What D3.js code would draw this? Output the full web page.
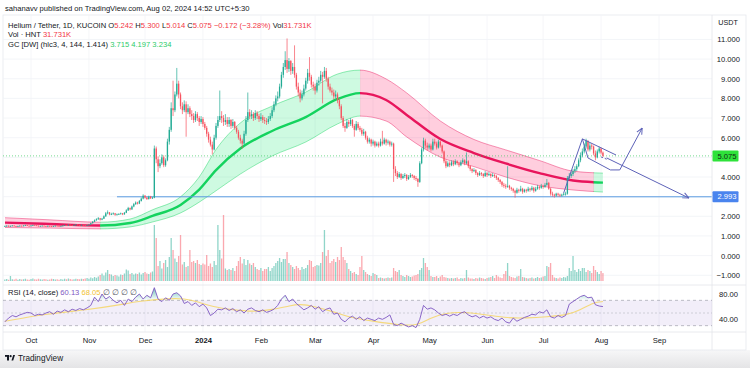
<!DOCTYPE html>
<html><head><meta charset="utf-8">
<script src="https://cdn.jsdelivr.net/npm/d3@7"></script>
<style>
html,body{margin:0;padding:0;background:#fff;}
svg{display:block;font-family:"Liberation Sans",Arial,"Noto Sans",sans-serif;}
</style></head><body>
<svg id="chart" width="750" height="368"></svg>
<script>
// ---------------- DATA ----------------
const startDay = [2023, 8, 17];           // first candle: 2023-09-17 (UTC), daily candles
const firstOpen = 1.49;
const closes = [
1.50,1.52,1.49,1.51,1.53,1.50,1.48,1.50,1.52,1.51,
1.53,1.55,1.52,1.50,1.53,1.55,1.54,1.52,1.50,1.51,
1.52,1.50,1.49,1.51,1.50,1.48,1.50,1.52,1.51,1.49,
1.50,1.53,1.55,1.54,1.57,1.55,1.53,1.56,1.58,1.55,
1.54,1.56,1.55,1.53,1.55,1.58,1.65,1.72,1.80,1.85,
1.90,1.83,1.88,2.00,2.15,2.20,2.10,2.12,2.15,2.08,
2.10,2.12,2.15,2.10,2.18,2.30,2.42,2.35,2.50,2.62,
2.70,2.65,2.78,2.90,3.05,2.95,2.88,3.00,2.92,2.95,
5.45,4.90,4.55,4.70,5.00,4.60,4.85,5.80,6.40,7.50,
7.40,8.20,8.75,8.20,7.60,7.40,7.70,7.30,7.50,7.20,
7.10,6.90,7.20,7.00,6.80,6.95,6.70,6.50,6.20,5.90,
5.65,5.40,6.00,6.60,6.90,7.10,7.00,6.80,6.90,6.70,
6.90,6.60,6.80,6.50,6.30,6.00,5.85,5.70,6.20,6.90,
7.30,7.10,7.20,7.00,7.25,7.10,6.95,7.05,6.90,6.85,
6.80,6.95,7.10,7.40,7.70,8.00,8.10,8.60,9.20,9.60,
9.95,9.50,9.90,9.40,9.60,9.20,8.60,8.30,8.00,8.20,
8.50,8.90,9.30,9.10,8.70,8.60,8.40,8.80,8.90,9.20,
9.10,9.40,9.00,8.60,8.40,8.30,8.10,8.20,7.90,7.60,
7.00,6.60,6.50,6.80,6.70,6.90,6.60,6.40,6.70,6.50,
6.40,6.20,6.30,6.00,5.80,5.90,5.70,5.80,5.60,5.70,
5.60,5.80,5.70,5.90,5.75,5.80,5.65,5.70,4.40,4.20,
4.00,4.15,3.95,4.05,4.10,3.90,4.00,4.10,4.05,3.95,
3.90,3.75,4.70,5.40,5.85,5.60,5.50,5.60,5.40,5.80,
5.70,5.50,5.80,5.60,5.30,4.80,4.55,4.70,4.60,4.75,
4.65,4.80,4.70,4.60,4.75,4.85,4.70,4.80,4.55,4.40,
4.30,4.35,4.20,4.10,4.20,4.15,4.05,4.20,4.10,4.15,
4.05,4.10,4.05,3.95,3.85,3.75,3.60,3.55,3.50,3.55,
3.45,3.40,3.30,3.20,3.35,3.30,3.40,3.25,3.35,3.30,
3.40,3.35,3.45,3.30,3.40,3.50,3.45,3.55,3.50,3.60,
3.70,3.40,3.15,3.10,3.05,3.15,3.10,3.05,3.10,3.15,
3.15,3.95,4.05,4.15,4.30,4.40,4.55,4.85,5.10,5.30,
5.55,5.85,5.40,5.60,5.55,5.20,5.00,5.30,5.45,5.242,5.075];
const highs = [
1.53,1.54,1.53,1.53,1.55,1.54,1.51,1.52,1.54,1.53,
1.55,1.57,1.56,1.53,1.55,1.57,1.56,1.55,1.53,1.53,
1.54,1.53,1.51,1.53,1.52,1.51,1.52,1.54,1.53,1.52,
1.52,1.55,1.57,1.56,1.59,1.58,1.56,1.58,1.61,1.59,
1.57,1.58,1.57,1.56,1.57,1.60,1.68,1.76,1.84,1.90,
1.96,1.92,1.92,2.05,2.22,2.30,2.22,2.18,2.20,2.17,
2.14,2.16,2.19,2.17,2.22,2.36,2.48,2.45,2.55,2.68,
2.76,2.74,2.83,2.96,3.12,3.08,2.98,3.05,3.04,2.99,
5.60,5.55,5.05,4.90,5.15,5.10,4.95,5.95,6.55,7.80,
8.90,8.35,9.55,8.90,8.30,7.80,7.90,7.85,7.70,7.60,
7.40,7.25,7.35,7.30,7.10,7.10,7.05,6.80,6.60,6.30,
6.05,5.80,6.15,6.75,7.10,8.40,7.35,7.15,7.20,7.05,
7.05,6.95,6.95,6.85,6.60,6.40,6.15,5.95,6.35,7.10,
8.30,7.45,7.40,7.30,7.40,7.35,7.20,7.25,7.15,7.05,
7.00,7.10,7.25,7.55,7.85,8.15,8.35,8.75,9.35,9.80,
10.40,11.05,10.05,9.95,9.80,10.70,9.30,8.80,8.45,8.40,
8.70,9.05,9.50,10.10,9.20,8.85,8.75,8.95,9.10,9.40,
9.35,9.60,9.55,9.10,8.75,8.55,8.45,8.40,8.30,8.00,
7.70,7.10,6.75,6.95,6.90,7.00,6.95,6.70,6.85,6.80,
6.60,6.50,6.45,6.35,6.10,6.00,5.95,5.90,5.85,5.80,
5.80,5.95,6.35,6.00,5.95,5.90,5.85,5.80,5.75,4.55,
4.30,4.25,4.20,4.15,4.20,4.15,4.10,4.20,4.15,4.10,
4.05,3.95,4.80,5.50,6.00,5.95,5.75,5.70,5.70,5.95,
5.95,5.80,5.90,5.85,5.65,5.35,4.90,4.80,4.80,4.85,
4.85,4.90,4.85,4.75,4.85,4.95,4.90,5.25,4.85,4.60,
4.45,4.45,4.40,4.25,4.30,4.25,4.20,4.30,4.25,4.25,
4.20,4.20,4.15,4.10,4.00,3.90,3.80,3.70,3.65,4.55,
3.60,3.50,3.45,3.35,3.45,3.40,3.55,3.45,3.40,3.40,
3.50,3.45,3.55,3.50,3.50,3.60,3.55,3.65,3.60,3.70,
3.90,3.75,3.45,3.25,3.15,3.20,3.20,3.15,3.15,3.20,
3.25,4.05,4.20,4.25,4.40,4.55,4.65,4.95,5.25,5.45,
5.70,5.95,5.85,5.75,5.70,5.60,5.35,5.40,5.55,5.50,5.300];
const lows = [
1.47,1.48,1.47,1.48,1.50,1.49,1.46,1.47,1.49,1.49,
1.50,1.52,1.51,1.49,1.49,1.52,1.53,1.51,1.49,1.49,
1.50,1.49,1.47,1.48,1.49,1.46,1.47,1.49,1.50,1.47,
1.48,1.49,1.52,1.52,1.53,1.54,1.51,1.52,1.55,1.54,
1.52,1.53,1.53,1.51,1.52,1.54,1.57,1.63,1.70,1.77,
1.82,1.78,1.80,1.86,1.97,2.10,2.05,2.06,2.08,2.02,
2.04,2.07,2.09,2.06,2.08,2.16,2.27,2.30,2.33,2.46,
2.58,2.60,2.62,2.75,2.86,2.90,2.83,2.85,2.88,2.88,
2.92,4.70,4.25,4.45,4.62,4.50,4.52,4.80,5.65,6.30,
7.10,7.30,8.10,8.00,7.45,7.20,7.30,6.05,7.20,7.05,
6.90,6.75,6.80,6.85,6.60,6.70,6.55,6.40,6.05,5.75,
5.55,5.15,5.35,5.90,6.50,6.80,6.75,6.60,6.65,6.55,
6.55,6.45,6.50,6.40,6.20,5.90,5.70,5.45,5.65,6.10,
6.80,6.95,6.95,6.85,6.90,6.95,6.80,6.85,6.75,6.70,
6.65,6.70,6.85,7.00,7.30,7.60,7.85,8.00,8.50,9.05,
9.45,9.30,9.35,9.20,9.25,9.05,8.45,8.10,7.80,7.90,
8.10,8.40,8.75,8.90,8.55,8.40,8.20,8.30,8.65,8.80,
7.75,9.00,8.85,8.45,8.30,8.15,7.95,8.00,7.75,7.45,
6.90,6.50,6.30,6.45,6.55,6.60,6.50,6.05,6.35,6.40,
6.30,6.10,6.10,5.90,5.70,5.70,5.55,5.60,5.50,5.55,
5.50,5.55,5.60,5.65,5.60,5.65,5.55,5.55,3.75,4.05,
3.90,3.95,3.85,3.90,3.95,3.80,3.85,3.95,3.95,3.85,
3.80,3.50,3.70,4.65,5.30,5.45,5.35,5.40,5.30,5.35,
5.60,5.40,5.45,5.50,5.20,4.70,4.45,4.50,4.50,4.55,
4.55,4.60,4.60,4.50,4.55,4.70,4.60,4.65,4.45,4.30,
4.20,4.25,4.10,4.00,4.05,4.05,3.95,4.00,4.00,4.05,
3.95,4.00,3.95,3.85,3.75,3.65,3.50,3.45,3.40,3.45,
3.35,3.30,3.20,2.95,3.15,3.20,3.25,3.15,3.20,3.20,
3.25,3.25,3.30,3.20,3.25,3.35,3.35,3.40,3.40,3.45,
3.55,3.35,3.05,3.00,2.95,3.00,3.00,2.98,3.00,3.05,
3.05,3.10,3.85,3.95,4.05,4.20,4.30,4.50,4.75,5.00,
5.20,5.45,5.30,5.30,5.40,5.10,4.85,4.95,5.20,5.15,5.014];
const volumesK = [
6,8,5,20,7,6,9,5,8,6,
7,9,6,5,8,10,7,6,9,7,
6,8,7,5,6,9,8,6,7,5,
8,6,9,7,10,8,6,7,9,8,
7,9,8,10,12,9,14,11,16,13,
18,24,30,22,34,44,28,26,20,24,
22,18,26,24,30,46,42,28,32,26,
30,28,34,26,32,36,30,28,34,38,
224,172,60,80,50,72,84,56,96,172,
124,90,76,100,184,66,76,56,60,124,
76,80,72,84,68,64,70,66,104,60,
70,56,80,64,224,124,90,264,50,44,
48,44,52,40,60,80,96,70,88,64,
84,70,64,72,56,48,44,52,40,48,
48,56,40,52,60,72,80,92,76,88,
88,116,72,64,56,48,60,52,44,56,
48,52,64,84,80,56,60,64,62,72,
116,204,100,124,72,80,88,76,96,84,
136,96,84,72,48,40,32,36,28,24,
56,100,44,36,28,24,20,32,28,24,
12,14,12,10,12,14,12,14,52,40,
36,44,24,20,16,24,20,16,18,22,
24,28,44,52,92,72,56,44,20,16,
16,20,12,18,24,16,14,12,10,12,
10,12,14,8,12,10,12,44,14,10,
10,8,12,10,14,12,10,8,12,14,
16,20,12,24,18,14,12,28,40,72,
20,16,14,12,18,20,48,16,14,12,
10,12,14,10,12,16,12,14,18,20,
60,56,72,24,14,12,10,14,12,16,
14,20,52,40,100,44,36,48,40,52,
52,36,44,40,32,60,44,36,28,40,31.731];

// RSI(14) sampled every 2 days from the first candle
const rsiStepDays = 2;
const rsiValues = [
36,42,46,44,47, 49,51,50,46,48, 47,50,52,48,53, 51,55,52,56,54,
57,55,58,62,75, 68,80,72,76,70, 66,70,62,72,68, 75,80,72,78,74,
90,72,68,74,70, 80,82,77,65,68, 62,66,60,64,58, 46,50,56,55,58,
54,57,52,55,50, 56,58,54,52,55, 51,53,56,62,72, 78,68,72,65,60,
55,58,62,56,60, 52,56,58,48,50, 40,36,42,45,40, 44,38,42,40,38,
42,40,43,47,32, 30,34,31,28,30, 27,40,62,56,58, 55,50,46,48,45,
48,46,50,52,47, 44,46,42,45,42, 44,40,38,42,36, 34,42,37,40,43,
45,48,47,52,50, 55,44,42,46,43, 46,64,68,72,76, 78,74,75,63,61,
60.13];
const rsiMaDays   = [0,23,44,60,72,88,96,104,111,122,133,143,153,158,165,176,183,197,211,221,228,237,247,258,269,279,290,301,308,315,320];
const rsiMaValues = [37,49,55,62,69,73,73,67,60,55,52,55,62,64,61,52,44,37,31,30,43,51,51,47,42,42,44,47,55,67,68.05];

// Gaussian Channel (hlc3, 4, 144, 1.414) key points
const gcDays  = [0,24,51,67,79,94,104,113,126,143,161,178,190,204,215,233,251,268,286,304,320];
const gcUpper = [1.93,1.82,1.70,1.86,2.33,2.99,4.00,5.40,6.75,7.61,8.32,9.24,9.44,8.99,8.28,6.85,5.91,5.38,4.84,4.30,4.197];
const gcMid   = [1.68,1.61,1.53,1.66,2.02,2.58,3.36,4.35,5.45,6.34,7.05,7.97,8.27,7.92,7.16,5.93,5.22,4.69,4.20,3.82,3.715];
const gcLower = [1.43,1.40,1.36,1.46,1.71,2.17,2.72,3.30,4.15,5.07,5.78,6.70,7.10,6.85,6.04,5.01,4.53,4.00,3.56,3.34,3.234];
const gcTrendFrom = [0,51,190,315];
const gcTrendTo   = [51,190,315,320];
const gcTrend     = ["down","up","down","up"];

const monthTicks  = ["2023-10-01","2023-11-01","2023-12-01","2024-01-01","2024-02-01","2024-03-01","2024-04-01","2024-05-01","2024-06-01","2024-07-01","2024-08-01","2024-09-01"];
const monthLabels = ["Oct","Nov","Dec","2024","Feb","Mar","Apr","May","Jun","Jul","Aug","Sep"];
const priceTicks  = [-1,0,1,2,3,4,5,6,7,8,9,10,11];
const rsiTicks    = [80,40];
const rsiLevels   = [70,50,30];
const lastPrice   = 5.075;
const supportPrice = 2.993;
const supportFromDay = 60;

// user drawings: [dayIndex, price]
const drawPole      = [[299.7,3.19],[309.9,5.94]];
const drawFlagTop   = [[309.9,5.94],[327.0,5.12]];
const drawFlagLeft  = [[309.9,5.94],[312.0,4.97]];
const drawFlagBot   = [[312.0,4.97],[324.9,4.36]];
const drawBreakout  = [[324.9,4.36],[329.1,4.36],[341.5,6.49]];
const drawTrend     = [[322.7,4.97],[366.6,2.93]];
const drawDashed    = [[319.5,5.02],[323.8,4.87]];

// ---------------- CHART ----------------
const svg = d3.select("#chart");
const paneL = 3, paneR = 712, mainTop = 15, mainBot = 285, rsiTop = 285, rsiBot = 332, timeBot = 350;
const FS = 7.6, TXT = "#131722";
const upC = "#22ab94", dnC = "#f7525f";

const dayDate = i => new Date(Date.UTC(startDay[0], startDay[1], startDay[2] + i));
const x = d3.scaleUtc().domain([new Date(Date.UTC(2023,9,1)), new Date(Date.UTC(2024,8,1))]).range([31,659]);
const xi = i => x(dayDate(i));
const y = d3.scaleLinear().domain([-1,11]).range([275.25,39.45]);
const yVol = d3.scaleLinear().domain([0,280]).range([281,211]);
const yRsi = d3.scaleLinear().domain([30,70]).range([325.66,300.34]);

const defs = svg.append("defs");
defs.append("clipPath").attr("id","mainClip").append("rect").attr("x",paneL).attr("y",mainTop).attr("width",paneR-paneL).attr("height",mainBot-mainTop);
defs.append("clipPath").attr("id","rsiClip").append("rect").attr("x",paneL).attr("y",rsiTop).attr("width",paneR-paneL).attr("height",rsiBot-rsiTop);
const ob = defs.append("linearGradient").attr("id","obGrad").attr("x1",0).attr("x2",0).attr("gradientUnits","userSpaceOnUse")
  .attr("y1",yRsi(100)).attr("y2",yRsi(70));
ob.append("stop").attr("offset",0).attr("stop-color","#089981").attr("stop-opacity",0.9);
ob.append("stop").attr("offset",1).attr("stop-color","#089981").attr("stop-opacity",0);
const os = defs.append("linearGradient").attr("id","osGrad").attr("x1",0).attr("x2",0).attr("gradientUnits","userSpaceOnUse")
  .attr("y1",yRsi(30)).attr("y2",yRsi(0));
os.append("stop").attr("offset",0).attr("stop-color","#f23645").attr("stop-opacity",0);
os.append("stop").attr("offset",1).attr("stop-color","#f23645").attr("stop-opacity",0.9);
const bottomGrad = defs.append("linearGradient").attr("id","botGrad").attr("x1",0).attr("x2",0).attr("y1",0).attr("y2",1);
bottomGrad.append("stop").attr("offset",0).attr("stop-color","#f7f7f8");
bottomGrad.append("stop").attr("offset",1).attr("stop-color","#e4e4e6");
const mk = defs.append("marker").attr("id","arrow").attr("viewBox","0 0 8 8").attr("refX",7.5).attr("refY",4)
  .attr("markerWidth",7).attr("markerHeight",7).attr("markerUnits","userSpaceOnUse").attr("orient","auto");
mk.append("path").attr("d","M0.5,0.8 L7.5,4 L0.5,7.2").attr("fill","none").attr("stroke","#5d62b8").attr("stroke-width",1.1);

// background
svg.append("rect").attr("width",750).attr("height",368).attr("fill","#fff");
svg.append("rect").attr("x",0).attr("y",timeBot).attr("width",750).attr("height",368-timeBot).attr("fill","url(#botGrad)");

// header
svg.append("text").attr("x",5).attr("y",11).attr("font-size",FS).attr("fill",TXT)
  .text("sahanavv published on TradingView.com, Aug 02, 2024 14:52 UTC+5:30");

// frame
svg.append("rect").attr("x",paneL).attr("y",mainTop).attr("width",746-paneL).attr("height",timeBot-mainTop)
  .attr("fill","none").attr("stroke","#e6e8ee").attr("stroke-width",0.8);

// grid
const grid = svg.append("g");
grid.selectAll("line.h").data(priceTicks).join("line").attr("class","h")
  .attr("x1",paneL).attr("x2",paneR).attr("y1",d=>y(d)).attr("y2",d=>y(d)).attr("stroke","#f0f2f6").attr("stroke-width",0.8);
grid.selectAll("line.v").data(monthTicks).join("line").attr("class","v")
  .attr("x1",d=>x(new Date(d+"T00:00:00Z"))).attr("x2",d=>x(new Date(d+"T00:00:00Z")))
  .attr("y1",mainTop).attr("y2",rsiBot).attr("stroke","#f3f4f7").attr("stroke-width",0.8);

// main pane
const main = svg.append("g").attr("clip-path","url(#mainClip)");

// Gaussian channel
const gcPts = gcDays.map((d,k)=>({d, u:gcUpper[k], m:gcMid[k], l:gcLower[k]}));
const bandArea = d3.area().x(p=>xi(p.d)).y0(p=>y(p.l)).y1(p=>y(p.u)).curve(d3.curveMonotoneX);
const lineU = d3.line().x(p=>xi(p.d)).y(p=>y(p.u)).curve(d3.curveMonotoneX);
const lineM = d3.line().x(p=>xi(p.d)).y(p=>y(p.m)).curve(d3.curveMonotoneX);
const lineL = d3.line().x(p=>xi(p.d)).y(p=>y(p.l)).curve(d3.curveMonotoneX);
gcTrend.forEach((t,k)=>{
  const id = "gcClip"+k;
  const x0 = xi(gcTrendFrom[k]), x1 = xi(gcTrendTo[k]);
  defs.append("clipPath").attr("id",id).append("rect").attr("x",x0).attr("y",0).attr("width",Math.max(0,x1-x0)+(k<gcTrend.length-1?0.3:1)).attr("height",368);
  const g = main.append("g").attr("clip-path",`url(#${id})`);
  const lc = t==="up" ? "#14d35e" : "#e8155c";
  const fc = t==="up" ? "rgba(10,230,104,0.2)" : "rgba(255,10,90,0.2)";
  g.append("path").attr("d",bandArea(gcPts)).attr("fill",fc);
  g.append("path").attr("d",lineU(gcPts)).attr("fill","none").attr("stroke",lc).attr("stroke-opacity",0.55).attr("stroke-width",0.8);
  g.append("path").attr("d",lineL(gcPts)).attr("fill","none").attr("stroke",lc).attr("stroke-opacity",0.55).attr("stroke-width",0.8);
  g.append("path").attr("d",lineM(gcPts)).attr("fill","none").attr("stroke",lc).attr("stroke-width",2.4);
});

// support line and last price line
main.append("line").attr("x1",xi(supportFromDay)).attr("x2",paneR).attr("y1",y(supportPrice)).attr("y2",y(supportPrice))
  .attr("stroke","#5b9be0").attr("stroke-width",1);
main.append("line").attr("x1",paneL).attr("x2",paneR).attr("y1",y(lastPrice)).attr("y2",y(lastPrice))
  .attr("stroke","#34c759").attr("stroke-opacity",0.75).attr("stroke-width",0.9).attr("stroke-dasharray","1,2");

// candles data
const candles = closes.map((c,i)=>({i, o: i ? closes[i-1] : firstOpen, h: highs[i], l: lows[i], c, v: volumesK[i]}));

// volume
const bw = 1.3;
main.append("g").selectAll("rect").data(candles).join("rect")
  .attr("x",d=>xi(d.i)-bw/2).attr("width",bw)
  .attr("y",d=>yVol(d.v)).attr("height",d=>yVol(0)-yVol(d.v))
  .attr("fill",d=>d.c>=d.o ? "rgba(34,171,148,0.5)" : "rgba(247,82,95,0.5)");

// candles
const cg = main.append("g");
cg.selectAll("line").data(candles).join("line")
  .attr("x1",d=>xi(d.i)).attr("x2",d=>xi(d.i)).attr("y1",d=>y(d.h)).attr("y2",d=>y(d.l))
  .attr("stroke",d=>d.c>=d.o?upC:dnC).attr("stroke-width",0.7);
cg.selectAll("rect").data(candles).join("rect")
  .attr("x",d=>xi(d.i)-bw/2).attr("width",bw)
  .attr("y",d=>y(Math.max(d.o,d.c))).attr("height",d=>Math.max(0.8,Math.abs(y(d.o)-y(d.c))))
  .attr("fill",d=>d.c>=d.o?upC:dnC);

// drawings
const dl = d3.line().x(p=>xi(p[0])).y(p=>y(p[1]));
const dg = main.append("g").attr("fill","none").attr("stroke","#5d62b8").attr("stroke-width",1);
[drawPole,drawFlagTop,drawFlagLeft,drawFlagBot].forEach(p=>dg.append("path").attr("d",dl(p)));
dg.append("path").attr("d",dl(drawBreakout)).attr("marker-end","url(#arrow)");
dg.append("path").attr("d",dl(drawTrend)).attr("marker-end","url(#arrow)");
dg.append("path").attr("d",dl(drawDashed)).attr("stroke-dasharray","2,2");

// pane separators
svg.append("line").attr("x1",paneL).attr("x2",746).attr("y1",rsiTop).attr("y2",rsiTop).attr("stroke","#e3e5ea").attr("stroke-width",0.8);
svg.append("line").attr("x1",paneL).attr("x2",746).attr("y1",rsiBot).attr("y2",rsiBot).attr("stroke","#e3e5ea").attr("stroke-width",0.8);
svg.append("line").attr("x1",paneR).attr("x2",paneR).attr("y1",mainTop).attr("y2",timeBot).attr("stroke","#e3e5ea").attr("stroke-width",0.8);

// RSI pane
const rp = svg.append("g").attr("clip-path","url(#rsiClip)");
rp.append("rect").attr("x",paneL).attr("width",paneR-paneL).attr("y",yRsi(70)).attr("height",yRsi(30)-yRsi(70)).attr("fill","rgba(126,87,194,0.1)");
rp.selectAll("line.lvl").data(rsiLevels).join("line").attr("class","lvl")
  .attr("x1",paneL).attr("x2",paneR).attr("y1",d=>yRsi(d)).attr("y2",d=>yRsi(d))
  .attr("stroke","#787b86").attr("stroke-opacity",d=>d===50?0.35:0.6).attr("stroke-width",0.8).attr("stroke-dasharray",d=>d===50?"2,2":"3,3");
const rsiPts = rsiValues.map((v,j)=>({d:j*rsiStepDays, v}));
rp.append("path").attr("d",d3.area().x(p=>xi(p.d)).y0(yRsi(70)).y1(p=>yRsi(Math.max(70,p.v)))(rsiPts)).attr("fill","url(#obGrad)");
rp.append("path").attr("d",d3.area().x(p=>xi(p.d)).y0(yRsi(30)).y1(p=>yRsi(Math.min(30,p.v)))(rsiPts)).attr("fill","url(#osGrad)");
const maPts = rsiMaDays.map((d,k)=>({d, v:rsiMaValues[k]}));
rp.append("path").attr("d",d3.line().x(p=>xi(p.d)).y(p=>yRsi(p.v)).curve(d3.curveBasis)(maPts))
  .attr("fill","none").attr("stroke","#f5d35c").attr("stroke-opacity",0.8).attr("stroke-width",1.1);
rp.append("path").attr("d",d3.line().x(p=>xi(p.d)).y(p=>yRsi(p.v))(rsiPts))
  .attr("fill","none").attr("stroke","#7e57c2").attr("stroke-width",0.9);

// price axis (labels hidden where a price tag covers them)
const tagPrices = [lastPrice, supportPrice];
const shownTicks = priceTicks.filter(t => tagPrices.every(p => Math.abs(y(t)-y(p)) > 9));
const pAxis = svg.append("g").attr("transform",`translate(${paneR},0)`)
  .call(d3.axisRight(y).tickValues(shownTicks).tickSize(0).tickPadding(0).tickFormat(d=>(d<0?"\u2212":"")+Math.abs(d).toFixed(3)));
pAxis.select(".domain").remove();
pAxis.selectAll("text").attr("x",28).attr("text-anchor","end").attr("font-size",FS).attr("fill",TXT).attr("font-family",null);
const rAxis = svg.append("g").attr("transform",`translate(${paneR},0)`)
  .call(d3.axisRight(yRsi).tickValues(rsiTicks).tickSize(0).tickPadding(0).tickFormat(d=>d.toFixed(2)));
rAxis.select(".domain").remove();
rAxis.selectAll("text").attr("x",26).attr("text-anchor","end").attr("font-size",FS).attr("fill",TXT).attr("font-family",null);
svg.append("text").attr("x",728).attr("y",25).attr("text-anchor","middle").attr("font-size",FS-0.4).attr("fill",TXT).text("USDT");

// price tags
function priceTag(v, bg, fg){
  const g = svg.append("g");
  g.append("rect").attr("x",paneR+0.5).attr("y",y(v)-5.5).attr("width",26).attr("height",11).attr("rx",1).attr("fill",bg);
  g.append("text").attr("x",paneR+24.5).attr("y",y(v)+2.7).attr("text-anchor","end").attr("font-size",FS).attr("fill",fg).text(v.toFixed(3));
}
priceTag(lastPrice,"#2ee23a","#0e2a12");
priceTag(supportPrice,"#4a84ee","#ffffff");

// time axis
const tAxis = svg.append("g").attr("transform",`translate(0,${rsiBot})`)
  .call(d3.axisBottom(x).tickValues(monthTicks.map(d=>new Date(d+"T00:00:00Z"))).tickSize(0).tickPadding(6).tickFormat((d,k)=>monthLabels[k]));
tAxis.select(".domain").remove();
tAxis.selectAll("text").attr("font-size",FS).attr("fill",TXT).attr("font-family",null)
  .attr("font-weight",(d,k)=>monthLabels[k]==="2024"?"bold":null);

// legends
const leg = svg.append("g").attr("font-size",FS);
const red = "#f23645", grn = "#2dcc68";
function legendLine(yy, parts){
  const t = leg.append("text").attr("x",8).attr("y",yy);
  parts.forEach(p=>t.append("tspan").attr("fill",p[1]).text(p[0]));
}
legendLine(28,[["Helium / Tether, 1D, KUCOIN ",TXT],["O",TXT],["5.242 ",red],["H",TXT],["5.300 ",red],["L",TXT],["5.014 ",red],["C",TXT],["5.075 ",red],["\u22120.172 (\u22123.28%) ",red],["Vol",TXT],["31.731K",red]]);
legendLine(37,[["Vol \u00b7 HNT ",TXT],["31.731K",red]]);
legendLine(46.5,[["GC [DW] (hlc3, 4, 144, 1.414) ",TXT],["3.715 4.197 3.234",grn]]);
legendLine(295,[["RSI (14, close) ",TXT],["60.13 ","#7e57c2"],["68.05 ","#f2c230"],["\u2205 \u2205 \u2205 \u2205","#50535e"]]);

// footer logo
const lg = svg.append("g").attr("fill","#131722");
lg.append("rect").attr("x",5).attr("y",355).attr("width",4).attr("height",1.8);
lg.append("rect").attr("x",7).attr("y",355).attr("width",2).attr("height",5.5);
lg.append("circle").attr("cx",10.6).attr("cy",356.2).attr("r",1.1);
lg.append("path").attr("d","M11.5,360.5 L13.2,355 L15,355 L13.2,360.5 Z");
svg.append("text").attr("x",18).attr("y",360.5).attr("font-size",8.2).attr("fill","#131722").text("TradingView");
</script>
</body></html>
